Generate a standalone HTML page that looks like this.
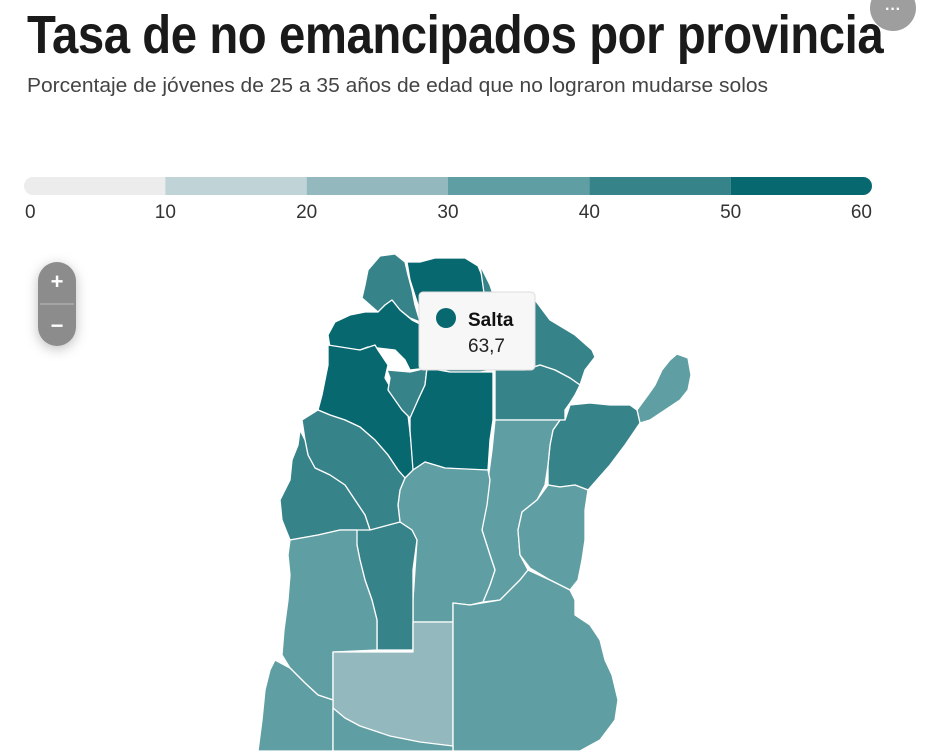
<!DOCTYPE html>
<html><head><meta charset="utf-8">
<style>
html,body{margin:0;padding:0;background:#fff;width:932px;height:751px;overflow:hidden;font-family:"Liberation Sans",sans-serif}
#title{position:absolute;left:27px;top:4px;font-weight:bold;font-size:54px;color:#1a1a1a;white-space:nowrap;transform-origin:0 0;letter-spacing:-0.5px}
#sub{position:absolute;left:27px;top:75px;font-size:20px;color:#444;white-space:nowrap;transform-origin:0 0}
</style></head><body>
<div id="title">Tasa de no emancipados por provincia</div>
<div id="sub">Porcentaje de jóvenes de 25 a 35 años de edad que no lograron mudarse solos</div>
<svg id="chart" width="932" height="751" style="position:absolute;left:0;top:0">
<g id="legend"></g>
<g id="map"></g>
<g id="tooltip">
<rect x="419" y="292" width="116" height="78" rx="4" fill="#f7f7f7" stroke="#ddd"/>
<circle cx="446" cy="318" r="10" fill="#076870"/>
<text x="468" y="326" font-size="19" font-weight="bold" fill="#111">Salta</text>
<text x="468" y="352" font-size="19" fill="#222">63,7</text>
</g>
<g>
<rect x="38" y="262" width="38" height="84" rx="19" fill="#8c8c8c" style="filter:drop-shadow(0 3px 6px rgba(0,0,0,.25))"/>
<line x1="40" y1="304" x2="74" y2="304" stroke="#bbb"/>
<text x="57" y="289" font-size="22" font-weight="bold" fill="#fff" text-anchor="middle">+</text>
<text x="57" y="333" font-size="22" font-weight="bold" fill="#fff" text-anchor="middle">−</text>
</g>
<g>
<circle cx="893" cy="8" r="23" fill="#9e9e9e"/>
<text x="893" y="14" font-size="16" font-weight="bold" fill="#fff" text-anchor="middle">···</text>
</g>
</svg>
<script>
const binEdges=[0,10,20,30,40,50,60];
const binColors=["#ececec","#c0d3d7","#93b8bd","#5f9ea3","#37838a","#076870"];
const provinces=["Jujuy","Salta","Catamarca","Tucumán","Santiago del Estero","Formosa","Chaco","Misiones","Corrientes","Santa Fe","Entre Ríos","Córdoba","San Luis","La Rioja","San Juan","Mendoza","La Pampa","Buenos Aires","Neuquén","Río Negro"];
const values=[45,63.7,55,45,53,47,46,36,48,35,36,35,44,45,45,37,27,36,34,35];
const shapes={
"Jujuy":[[380,256],[395,254],[405,262],[408,275],[412,290],[415,305],[420,322],[410,318],[400,310],[392,300],[385,305],[378,312],[370,305],[362,298],[365,285],[368,270]],
"Salta":[[407,262],[420,262],[435,258],[465,258],[478,266],[486,285],[495,300],[495,370],[480,372],[450,372],[427,368],[410,370],[405,360],[395,350],[378,348],[368,347],[360,350],[330,348],[328,335],[335,322],[350,315],[365,312],[378,312],[385,305],[392,300],[400,310],[412,320],[420,324],[418,305],[410,280]],
"Catamarca":[[328,345],[360,350],[375,345],[378,350],[388,365],[385,378],[392,390],[400,405],[408,415],[410,432],[412,450],[415,470],[405,478],[398,470],[388,455],[375,440],[360,427],[345,420],[330,415],[318,410],[322,395],[325,380],[328,365]],
"Tucumán":[[387,370],[410,372],[427,368],[425,385],[418,400],[415,410],[410,418],[402,410],[395,400],[388,390],[390,378]],
"Santiago del Estero":[[427,368],[450,372],[493,372],[493,420],[490,440],[488,470],[470,470],[445,468],[425,462],[413,470],[410,430],[410,418],[418,400],[425,385]],
"Formosa":[[480,265],[490,285],[495,300],[535,300],[550,320],[575,335],[592,350],[595,357],[585,370],[580,385],[570,378],[555,370],[540,365],[525,370],[495,370]],
"Chaco":[[495,370],[525,370],[540,365],[555,370],[570,378],[580,385],[575,395],[570,403],[565,410],[565,420],[495,420]],
"Misiones":[[677,354],[688,358],[691,375],[688,390],[680,400],[665,410],[650,420],[640,423],[637,410],[648,395],[655,385],[662,370],[670,360]],
"Corrientes":[[565,420],[570,405],[590,403],[610,405],[630,405],[637,410],[640,423],[625,445],[610,465],[595,482],[588,490],[575,485],[560,487],[548,485],[548,465],[550,445],[553,430],[560,420]],
"Santa Fe":[[495,420],[560,420],[553,430],[550,445],[548,465],[545,485],[537,500],[522,512],[518,530],[520,555],[528,570],[520,580],[510,590],[500,600],[483,602],[490,585],[495,570],[490,555],[482,530],[485,505],[488,480],[492,450]],
"Entre Ríos":[[548,485],[560,487],[575,485],[588,490],[585,510],[585,540],[582,560],[578,580],[570,590],[550,580],[530,568],[520,555],[518,530],[522,512],[537,500]],
"Córdoba":[[413,470],[425,462],[445,468],[488,470],[490,480],[487,505],[482,530],[490,555],[495,570],[490,585],[483,602],[470,605],[453,603],[453,622],[413,622],[413,600],[415,570],[417,540],[412,530],[400,522],[398,505],[400,490],[405,478]],
"San Luis":[[356,530],[400,522],[412,530],[417,540],[413,570],[413,600],[413,650],[377,650],[377,620],[372,600],[365,580],[360,560],[357,545]],
"La Rioja":[[302,420],[318,410],[330,415],[345,420],[360,427],[375,440],[388,455],[398,470],[405,478],[400,490],[398,505],[400,522],[370,530],[365,515],[355,500],[345,485],[330,475],[315,468],[308,455],[305,440]],
"San Juan":[[300,430],[305,440],[308,455],[315,468],[330,475],[345,485],[355,500],[365,515],[370,530],[357,530],[340,530],[318,535],[290,540],[282,520],[280,500],[290,480],[292,460],[298,445]],
"Mendoza":[[290,540],[318,535],[340,530],[357,530],[357,545],[360,560],[365,580],[372,600],[377,620],[377,650],[333,652],[333,700],[318,695],[305,683],[290,668],[282,655],[284,630],[288,600],[290,575],[288,555]],
"La Pampa":[[333,652],[413,652],[413,622],[453,622],[453,751],[333,751]],
"Buenos Aires":[[453,603],[470,605],[500,600],[520,580],[528,570],[550,580],[570,590],[575,600],[575,615],[590,625],[600,640],[605,660],[612,675],[618,700],[615,720],[600,740],[580,751],[453,751]],
"Neuquén":[[275,660],[290,668],[305,683],[318,695],[333,700],[333,751],[258,751],[262,720],[265,690],[270,670]],
"Río Negro":[[333,708],[345,718],[360,726],[390,736],[420,742],[453,746],[453,751],[333,751]]
};
const NS="http://www.w3.org/2000/svg";
// legend scale
const lx0=24,lx1=872,ly=177,lh=18;
const xs=v=>lx0+(v-binEdges[0])/(binEdges[binEdges.length-1]-binEdges[0])*(lx1-lx0);
const leg=document.getElementById('legend');
const clip=document.createElementNS(NS,'clipPath');clip.id='legclip';
const cr=document.createElementNS(NS,'rect');
cr.setAttribute('x',lx0);cr.setAttribute('y',ly);cr.setAttribute('width',lx1-lx0);cr.setAttribute('height',lh);cr.setAttribute('rx',9);
clip.appendChild(cr);leg.appendChild(clip);
for(let i=0;i<binColors.length;i++){
 const r=document.createElementNS(NS,'rect');
 
 
 r.setAttribute('x',xs(binEdges[i]));r.setAttribute('y',ly);
 r.setAttribute('width',xs(binEdges[i+1])-xs(binEdges[i]));r.setAttribute('height',lh);
 r.setAttribute('fill',binColors[i]);r.setAttribute('clip-path','url(#legclip)');
 leg.appendChild(r);
}
binEdges.forEach((e,i)=>{
 const t=document.createElementNS(NS,'text');
 
 
 const x=xs(e);
 t.setAttribute('x',i==0?x+1:(i==binEdges.length-1?x:x));
 t.setAttribute('y',218);
 t.setAttribute('text-anchor',i==0?'start':(i==binEdges.length-1?'end':'middle'));
 t.setAttribute('font-size','19');t.setAttribute('fill','#333');
 t.textContent=e;leg.appendChild(t);
});
const colorOf=v=>{let k=Math.floor((v-binEdges[0])/10);k=Math.max(0,Math.min(binColors.length-1,k));return binColors[k];};
const map=document.getElementById('map');
provinces.forEach((p,i)=>{
 const poly=document.createElementNS(NS,'polygon');
 
 
 poly.setAttribute('points',shapes[p].map(q=>q.join(',')).join(' '));
 poly.setAttribute('fill',colorOf(values[i]));
 poly.setAttribute('stroke','#fff');poly.setAttribute('stroke-width','1.3');poly.setAttribute('stroke-linejoin','round');
 map.appendChild(poly);
});
function fit(id,w){const el=document.getElementById(id);el.style.transform='scaleX('+(w/el.offsetWidth)+')';}
fit('title',856);fit('sub',741);
</script>
</body></html>
